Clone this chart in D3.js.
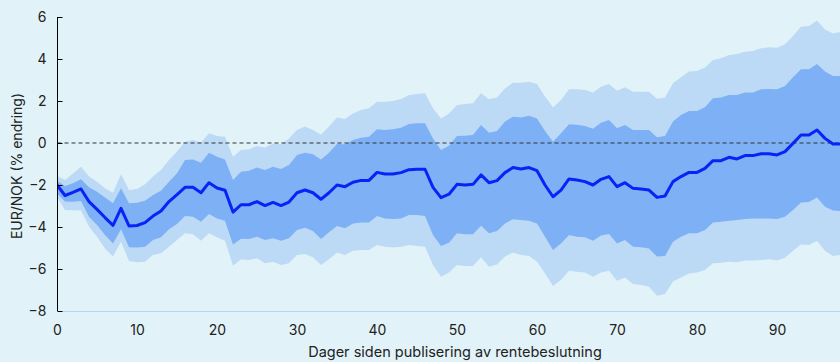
<!DOCTYPE html>
<html>
<head>
<meta charset="utf-8">
<script src="https://cdn.jsdelivr.net/npm/d3@7"></script>
<style>
  html, body { margin: 0; padding: 0; background: #e1f3f8; }
  svg { display: block; }
  text { font-family: Inter, "Noto Sans", sans-serif; fill: #222; }
</style>
</head>
<body>
<svg id="chart" width="840" height="362"></svg>
<script>
const median = [-2.0,-2.5,-2.35,-2.19,-2.79,-3.16,-3.55,-3.92,-3.11,-3.95,-3.93,-3.79,-3.48,-3.24,-2.79,-2.46,-2.11,-2.11,-2.37,-1.89,-2.14,-2.25,-3.29,-2.94,-2.94,-2.79,-2.98,-2.83,-2.98,-2.81,-2.37,-2.24,-2.37,-2.68,-2.37,-2.0,-2.08,-1.87,-1.78,-1.78,-1.40,-1.48,-1.48,-1.41,-1.27,-1.25,-1.25,-2.11,-2.60,-2.44,-1.97,-2.0,-1.97,-1.52,-1.89,-1.79,-1.41,-1.17,-1.24,-1.17,-1.32,-2.0,-2.56,-2.24,-1.71,-1.76,-1.84,-2.0,-1.73,-1.60,-2.08,-1.89,-2.16,-2.19,-2.24,-2.59,-2.52,-1.84,-1.60,-1.40,-1.40,-1.21,-0.84,-0.84,-0.68,-0.76,-0.60,-0.60,-0.51,-0.51,-0.57,-0.41,-0.02,0.38,0.38,0.62,0.22,-0.05,-0.05];
const outerUpper = [-1.56,-1.76,-1.45,-1.13,-1.6,-1.84,-2.16,-2.37,-1.49,-2.24,-2.19,-1.97,-1.6,-1.29,-0.81,-0.41,0.06,0.14,0.02,0.46,0.33,0.30,-0.65,-0.33,-0.30,-0.14,-0.21,-0.02,-0.06,0.22,0.62,0.78,0.62,0.41,0.78,1.21,1.14,1.41,1.57,1.65,1.97,1.97,2.0,2.10,2.29,2.33,2.37,1.65,1.17,1.41,1.81,1.86,1.89,2.37,2.08,2.17,2.60,2.87,2.87,2.92,2.81,2.21,1.70,2.05,2.56,2.56,2.52,2.40,2.68,2.81,2.49,2.65,2.44,2.44,2.44,2.11,2.17,2.84,3.13,3.40,3.43,3.60,3.95,4.03,4.19,4.24,4.35,4.38,4.51,4.56,4.54,4.70,5.10,5.54,5.57,5.83,5.41,5.22,5.3];
const innerUpper = [-1.8,-2.05,-1.92,-1.73,-2.11,-2.32,-2.60,-2.87,-2.16,-2.87,-2.84,-2.75,-2.48,-2.27,-1.84,-1.44,-0.81,-0.78,-0.94,-0.46,-0.65,-0.78,-1.76,-1.37,-1.32,-1.17,-1.29,-1.13,-1.24,-1.05,-0.57,-0.46,-0.54,-0.78,-0.46,-0.05,-0.06,0.14,0.25,0.30,0.65,0.62,0.65,0.73,0.90,0.94,0.94,0.22,-0.33,-0.13,0.33,0.35,0.38,0.86,0.49,0.57,1.02,1.25,1.22,1.30,1.17,0.57,0.06,0.46,0.89,0.87,0.81,0.68,0.97,1.10,0.70,0.86,0.62,0.62,0.62,0.27,0.33,1.02,1.33,1.52,1.52,1.70,2.13,2.17,2.29,2.29,2.40,2.41,2.56,2.57,2.56,2.71,3.13,3.51,3.51,3.76,3.40,3.19,3.19];
const innerLower = [-2.40,-2.79,-2.8,-2.76,-3.51,-3.90,-4.38,-4.78,-4.11,-4.97,-4.98,-4.94,-4.62,-4.49,-4.11,-3.86,-3.48,-3.51,-3.75,-3.38,-3.59,-3.70,-4.83,-4.56,-4.57,-4.46,-4.62,-4.54,-4.65,-4.54,-4.14,-4.03,-4.19,-4.57,-4.25,-3.95,-4.06,-3.83,-3.78,-3.78,-3.48,-3.59,-3.62,-3.59,-3.43,-3.43,-3.48,-4.38,-4.90,-4.75,-4.30,-4.35,-4.35,-3.94,-4.30,-4.19,-3.83,-3.63,-3.67,-3.70,-3.83,-4.46,-5.10,-4.78,-4.38,-4.46,-4.49,-4.65,-4.41,-4.33,-4.78,-4.62,-4.94,-4.97,-5.02,-5.41,-5.38,-4.70,-4.46,-4.30,-4.30,-4.14,-3.78,-3.75,-3.70,-3.67,-3.62,-3.60,-3.59,-3.59,-3.62,-3.51,-3.19,-2.83,-2.81,-2.60,-3.03,-3.22,-3.24];
const outerLower = [-2.56,-3.19,-3.2,-3.22,-3.98,-4.46,-5.02,-5.41,-4.70,-5.62,-5.68,-5.65,-5.33,-5.25,-4.94,-4.62,-4.30,-4.35,-4.65,-4.30,-4.49,-4.65,-5.84,-5.54,-5.57,-5.49,-5.73,-5.65,-5.81,-5.73,-5.33,-5.29,-5.44,-5.81,-5.54,-5.22,-5.33,-5.13,-5.10,-5.10,-4.86,-4.94,-4.98,-4.94,-4.86,-4.90,-4.94,-5.81,-6.37,-6.17,-5.81,-5.86,-5.86,-5.44,-5.89,-5.78,-5.41,-5.22,-5.33,-5.38,-5.65,-6.21,-6.81,-6.52,-6.08,-6.13,-6.17,-6.37,-6.17,-6.08,-6.56,-6.41,-6.71,-6.76,-6.84,-7.27,-7.19,-6.60,-6.40,-6.21,-6.17,-6.05,-5.73,-5.70,-5.65,-5.68,-5.60,-5.60,-5.57,-5.54,-5.60,-5.46,-5.13,-4.83,-4.86,-4.67,-5.13,-5.38,-5.33];
const days = median.map((_, i) => i);
const xTicks = [0, 10, 20, 30, 40, 50, 60, 70, 80, 90];
const yTicks = [-8, -6, -4, -2, 0, 2, 4, 6];
const xTitle = "Dager siden publisering av rentebeslutning";
const yTitle = "EUR/NOK (% endring)";

const svg = d3.select("#chart");
const W = 840, H = 362;
const mLeft = 57.5, mTop = 17, mBottom = 311, mRight = 840;

const x = d3.scaleLinear().domain([0, 98]).range([57, 841]);
const y = d3.scaleLinear().domain([-8, 6]).range([mBottom, mTop]);

svg.append("rect").attr("width", W).attr("height", H).attr("fill", "#e1f3f8");

svg.append("clipPath").attr("id", "clip")
  .append("rect").attr("x", mLeft).attr("y", 0).attr("width", mRight - mLeft).attr("height", mBottom);

const g = svg.append("g").attr("clip-path", "url(#clip)");

const area = (lo, hi) => d3.area()
  .x((d, i) => x(days[i]))
  .y0((d, i) => y(lo[i]))
  .y1((d, i) => y(hi[i]));

g.append("path").datum(days).attr("d", area(outerLower, outerUpper)).attr("fill", "#bcdaf5");
g.append("path").datum(days).attr("d", area(innerLower, innerUpper)).attr("fill", "#7db0f5");

g.append("line")
  .attr("x1", mLeft).attr("x2", mRight)
  .attr("y1", y(0)).attr("y2", y(0))
  .attr("stroke", "#333").attr("stroke-width", 1.2).attr("stroke-dasharray", "4,3");

g.append("path").datum(days)
  .attr("d", d3.line().x((d, i) => x(days[i])).y((d, i) => y(median[i])))
  .attr("fill", "none").attr("stroke", "#0a22f5").attr("stroke-width", 3)
  .attr("stroke-linejoin", "round");

const xAxis = svg.append("g").attr("transform", `translate(0,${mBottom})`)
  .call(d3.axisBottom(x).tickValues(xTicks).tickSize(0).tickPadding(14).tickFormat(d3.format("d")));
xAxis.select(".domain").attr("stroke", "#b7d7ea").attr("d", `M${mLeft},0.5H${mRight}`);
xAxis.selectAll("text").attr("font-size", 14).attr("fill", "#222")
  .style("font-family", "Inter, 'Noto Sans', sans-serif");

const yAxis = svg.append("g").attr("transform", `translate(${mLeft},0)`)
  .call(d3.axisLeft(y).tickValues(yTicks).tickSize(-5).tickPadding(11).tickFormat(d3.format("d")));
yAxis.select(".domain").attr("stroke", "#000").attr("d", `M0,${mTop}V${mBottom}`);
yAxis.selectAll(".tick line").attr("stroke", "#000");
yAxis.selectAll("text").attr("font-size", 14).attr("fill", "#222")
  .style("font-family", "Inter, 'Noto Sans', sans-serif");

svg.append("text").attr("x", 455).attr("y", 357).attr("text-anchor", "middle")
  .attr("font-size", 14.5).text(xTitle);
svg.append("text").attr("transform", "translate(22,166) rotate(-90)").attr("text-anchor", "middle")
  .attr("font-size", 14).text(yTitle);
</script>
</body>
</html>
